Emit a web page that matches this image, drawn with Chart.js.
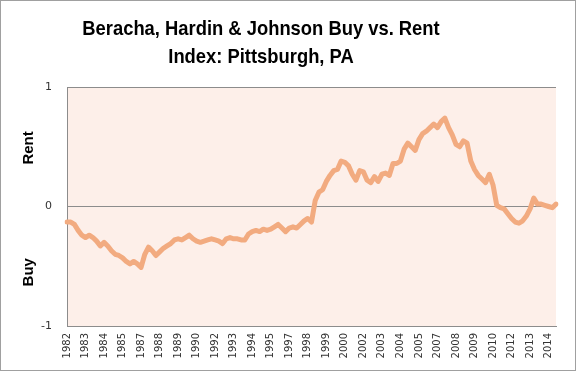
<!DOCTYPE html>
<html>
<head>
<meta charset="utf-8">
<title>Buy vs. Rent Index: Pittsburgh, PA</title>
<script src="https://cdn.jsdelivr.net/npm/chart.js@4.4.1/dist/chart.umd.min.js"></script>
<style>
  html, body { margin: 0; padding: 0; background: #fff; }
  #wrap { width: 576px; height: 371px; box-sizing: border-box; border: 1px solid #a0a0a0; }
  canvas { display: block; }
</style>
</head>
<body>
<div id="wrap"><canvas id="chart" width="574" height="369"></canvas></div>
<script>
// Quarterly index, 1982 Q1 .. 2015 Q1
const firstYear = 1982;
const indexValues = [
  -0.13, -0.13, -0.15, -0.20, -0.24, -0.26, -0.24, -0.26, -0.29, -0.33,
  -0.30, -0.33, -0.37, -0.40, -0.41, -0.43, -0.46, -0.48, -0.46, -0.48,
  -0.51, -0.40, -0.34, -0.37, -0.41, -0.38, -0.35, -0.33, -0.31, -0.28,
  -0.27, -0.28, -0.26, -0.24, -0.27, -0.29, -0.30, -0.29, -0.28, -0.27,
  -0.28, -0.29, -0.31, -0.27, -0.26, -0.27, -0.27, -0.28, -0.28, -0.23,
  -0.21, -0.20, -0.21, -0.19, -0.20, -0.19, -0.17, -0.15, -0.18, -0.21,
  -0.18, -0.17, -0.18, -0.15, -0.12, -0.10, -0.13, 0.05, 0.12, 0.14,
  0.21, 0.26, 0.30, 0.31, 0.38, 0.37, 0.34, 0.27, 0.22, 0.30,
  0.29, 0.22, 0.20, 0.25, 0.21, 0.27, 0.28, 0.26, 0.36, 0.36,
  0.38, 0.48, 0.53, 0.50, 0.47, 0.56, 0.61, 0.63, 0.66, 0.69,
  0.66, 0.71, 0.74, 0.66, 0.60, 0.52, 0.50, 0.55, 0.53, 0.38,
  0.31, 0.26, 0.23, 0.20, 0.27, 0.18, 0.01, -0.01, -0.02, -0.06,
  -0.10, -0.13, -0.14, -0.12, -0.08, -0.02, 0.07, 0.02, 0.02, 0.01,
  0.00, -0.01, 0.02
];
const quarterLabels = indexValues.map((v, i) => (firstYear + Math.floor(i / 4)) + ' Q' + (i % 4 + 1));
const labelEvery = 5;
const yTicks = [-1, 0, 1];
const titleLines = ['Beracha, Hardin & Johnson Buy vs. Rent', 'Index: Pittsburgh, PA'];
const sideLabels = [{ text: 'Rent', value: 0.49 }, { text: 'Buy', value: -0.55 }];

const lineColor = '#f2ab80';
const plotFill = '#fdefe9';
const gridColor = '#8c8c8c';

// plot background + title + Rent/Buy labels
const decor = {
  id: 'decor',
  beforeDraw(chart) {
    const { ctx, chartArea: a } = chart;
    ctx.save();
    ctx.fillStyle = plotFill;
    ctx.fillRect(a.left, a.top, a.right - a.left, a.bottom - a.top);
    ctx.restore();
  },
  afterDraw(chart) {
    const { ctx, scales } = chart;
    ctx.save();
    ctx.fillStyle = '#000';
    ctx.textAlign = 'center';
    ctx.textBaseline = 'alphabetic';
    ctx.font = 'bold 21px "Liberation Sans", sans-serif';
    // squeeze horizontally to get the narrow look of the original face
    ctx.save();
    ctx.translate(260, 0);
    ctx.scale(0.875, 1);
    ctx.fillText(titleLines[0], 0, 34);
    ctx.fillText(titleLines[1], 0, 62);
    ctx.restore();

    ctx.font = 'bold 15px "Liberation Sans", sans-serif';
    ctx.textBaseline = 'middle';
    sideLabels.forEach(s => {
      ctx.save();
      ctx.translate(28, scales.y.getPixelForValue(s.value));
      ctx.rotate(-Math.PI / 2);
      ctx.fillText(s.text, 0, 0);
      ctx.restore();
    });
    ctx.restore();
  }
};

new Chart(document.getElementById('chart'), {
  type: 'line',
  data: {
    labels: quarterLabels,
    datasets: [{
      data: indexValues,
      borderColor: lineColor,
      borderWidth: 5,
      borderJoinStyle: 'round',
      borderCapStyle: 'round',
      pointRadius: 0,
      tension: 0
    }]
  },
  options: {
    responsive: false,
    animation: false,
    layout: { padding: { top: 86, right: 14, left: 0, bottom: 0 } },
    plugins: {
      legend: { display: false },
      tooltip: { enabled: false }
    },
    scales: {
      x: {
        grid: { display: false, drawTicks: false },
        border: { display: true, color: gridColor },
        afterFit: (s) => { s.height = 44; },
        ticks: {
          autoSkip: false,
          maxRotation: 90,
          minRotation: 90,
          padding: 7,
          color: '#333',
          font: { family: 'DejaVu Sans', size: 10 },
          callback: function (val, i) {
            return i % labelEvery === 0 ? quarterLabels[i].slice(0, 4) : '';
          }
        }
      },
      y: {
        min: -1,
        max: 1,
        afterFit: (s) => { s.width = 66; },
        afterBuildTicks: (s) => { s.ticks = yTicks.map(v => ({ value: v })); },
        grid: { color: gridColor, drawTicks: false },
        border: { display: true, color: gridColor },
        ticks: {
          padding: 15,
          color: '#333',
          font: { family: 'DejaVu Sans', size: 11 }
        }
      }
    }
  },
  plugins: [decor]
});
</script>
</body>
</html>
